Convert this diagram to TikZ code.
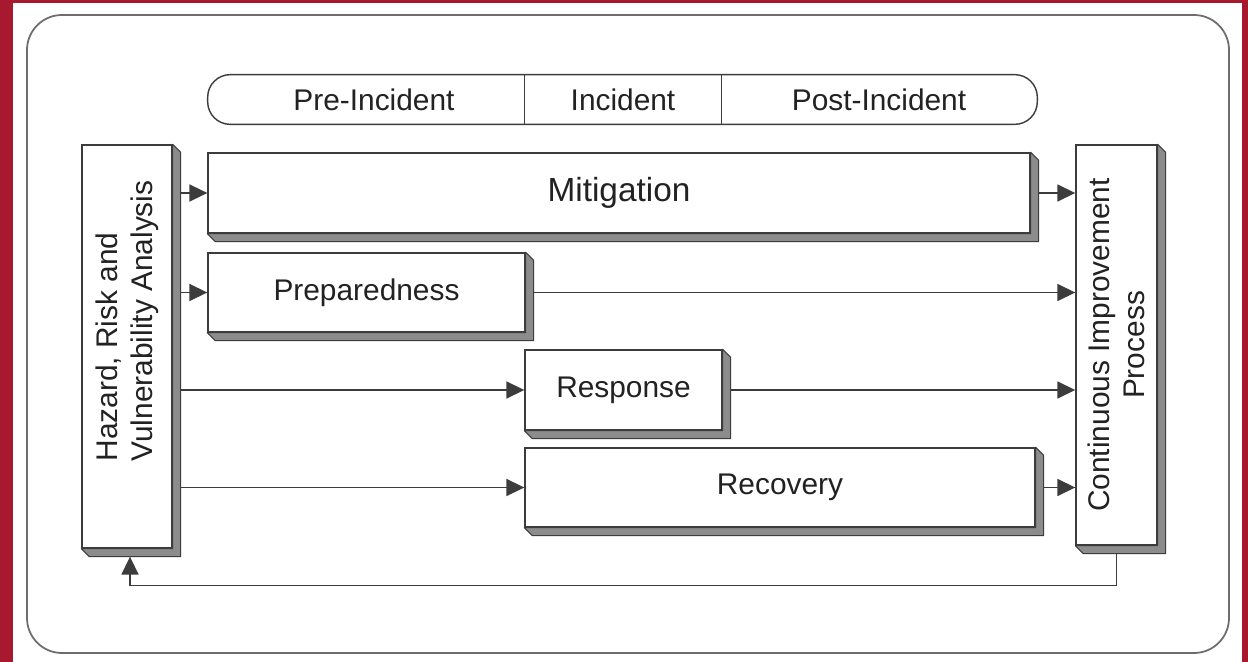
\documentclass[tikz,border=0pt]{standalone}
\usepackage{fontspec}
\setmainfont{Liberation Sans}
\usetikzlibrary{arrows.meta,calc}
\definecolor{frameRed}{HTML}{A6192E}
\definecolor{lineGray}{HTML}{3C3C3C}
\definecolor{sideGray}{HTML}{8C8C8C}
\definecolor{textGray}{HTML}{222222}

\begin{document}
\begin{tikzpicture}[
        x=0.02cm, y=-0.02cm, % one unit per pixel, y pointing down
        box/.style={draw=lineGray, fill=white, line width=0.8pt, inner sep=0pt, font=\fontsize{17}{20}\selectfont, text=textGray},
        cell/.style={inner sep=0pt, minimum height=0.98cm, font=\fontsize{17}{20}\selectfont, text=textGray},
        side/.style={fill=sideGray, draw=lineGray, line width=0.6pt, line join=round}, % 3D edge of a box
        flow/.style={-{Triangle[length=0.36cm, width=0.34cm]}, draw=lineGray, line width=0.9pt, shorten <=0.16cm}
    ]
    % page and outer frame
    \fill[frameRed] (0,0) rectangle (1248,662);
    \fill[white] (13,3) rectangle (1242,662);
    \draw[lineGray!75, line width=1pt, rounded corners=0.7cm] (27,15) rectangle (1229,653);

    % phase bar
    \node[cell, minimum width=6.34cm] (pre) at (366.5,99.5) {\hspace*{0.3cm}Pre-Incident};
    \node[cell, minimum width=3.92cm] (inc) at (623,99.5) {Incident};
    \node[cell, minimum width=6.32cm] (post) at (879,99.5) {Post-Incident};
    \draw[lineGray, line width=0.8pt, rounded corners=0.45cm] (pre.north west) rectangle (post.south east);
    \draw[lineGray, line width=0.8pt] (inc.north west) -- (inc.south west) (inc.north east) -- (inc.south east);

    % boxes
    \node[box, minimum width=1.8cm, minimum height=8.06cm] (hva) at (127,346.5) {};
    \node[rotate=90, align=left, font=\fontsize{17}{20}\selectfont, text=textGray] (hvatext) at (127,321) {Hazard, Risk and\\Vulnerability Analysis};
    \node[box, minimum width=16.44cm, minimum height=1.6cm, font=\fontsize{19}{22}\selectfont] (mit) at (619,193) {Mitigation};
    \node[box, minimum width=6.34cm, minimum height=1.58cm] (prep) at (366.5,292.5) {Preparedness};
    \node[box, minimum width=3.94cm, minimum height=1.6cm] (resp) at (623.5,390) {Response};
    \node[box, minimum width=10.2cm, minimum height=1.58cm] (rec) at (780,487.5) {Recovery};
    \node[box, minimum width=1.62cm, minimum height=8cm] (cip) at (1116.5,345) {};
    \node[rotate=90, align=center, font=\fontsize{17}{20}\selectfont, text=textGray] (ciptext) at (cip) {Continuous Improvement\\Process};

    % raised edges
    \foreach \n in {hva,mit,prep,resp,rec,cip}
        \filldraw[side] (\n.north east) -- ($(\n.north east)+(8,8)$) -- ($(\n.south east)+(8,8)$)
            -- ($(\n.south west)+(8,8)$) -- (\n.south west) -- (\n.south east) -- cycle;

    % arrows
    \foreach \n in {mit,prep,resp,rec}
        \draw[flow] (hva.east |- \n.west) -- (\n.west);
    \foreach \n in {mit,prep,resp,rec}
        \draw[flow] (\n.east) -- (cip.west |- \n.east);
    \draw[flow, shorten >=0.16cm] (cip.south) -- ++(0,40) -| ($(hva.south)+(3,0)$); % feedback loop
\end{tikzpicture}
\end{document}
